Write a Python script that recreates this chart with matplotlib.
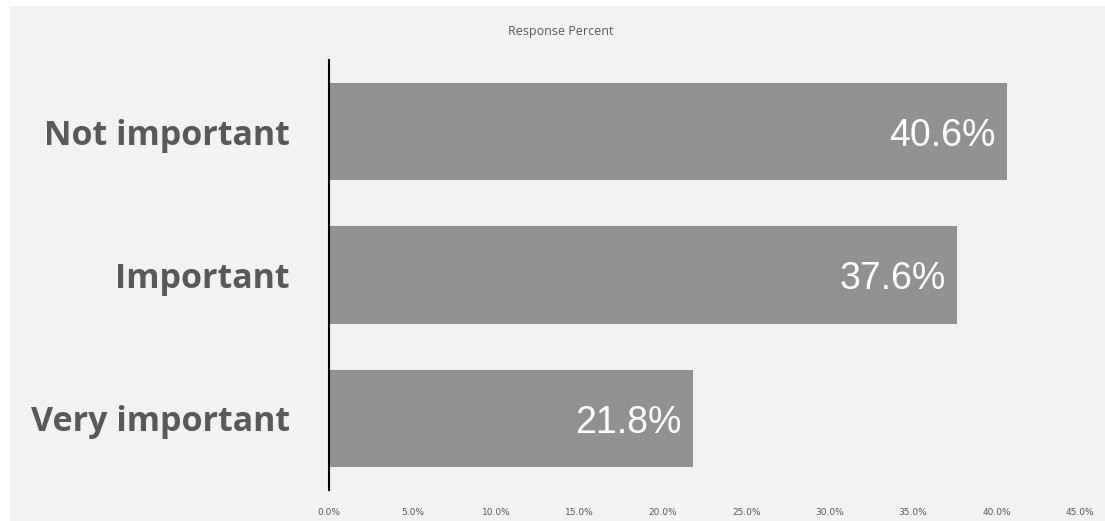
import matplotlib.pyplot as plt
from matplotlib.patches import Rectangle

# Data
categories = ['Not important', 'Important', 'Very important']
percents = [40.6, 37.6, 21.8]
tick_values = [0, 5, 10, 15, 20, 25, 30, 35, 40, 45]
tick_labels = ['0.0%', '5.0%', '10.0%', '15.0%', '20.0%', '25.0%',
               '30.0%', '35.0%', '40.0%', '45.0%']

W, H = 1105, 521
fig = plt.figure(figsize=(W / 100, H / 100), dpi=100)
fig.patch.set_facecolor('white')

# grey chart area with a thin white margin on the top and left
fig.patches.append(Rectangle((10 / W, 0), 1 - 10 / W, 1 - 6 / H,
                             transform=fig.transFigure, facecolor='#f2f2f2',
                             edgecolor='none', zorder=-10))

ax = fig.add_axes([329 / W, 1 - 490 / H, (1080 - 329) / W, (490 - 60) / H])
ax.set_facecolor('none')

y = list(range(len(categories)))
ax.barh(y, percents, height=0.68, color='#919191')
ax.set_ylim(2.5, -0.5)
ax.set_xlim(0, 45)

for yi, v in zip(y, percents):
    ax.text(v - 0.65, yi + 0.03, f'{v:.1f}%', ha='right', va='center',
            color='white', fontsize=27, family='Liberation Sans')

ax.set_yticks(y)
ax.set_yticklabels(categories, fontsize=24.5, fontweight='bold',
                   family='Open Sans', color='#595959')
ax.tick_params(axis='y', length=0, pad=28)

ax.set_xticks(tick_values)
ax.set_xticklabels(tick_labels, fontsize=6.5, color='#595959',
                   family='Liberation Sans Narrow')
ax.tick_params(axis='x', length=0, pad=13)

for side in ['top', 'right', 'bottom']:
    ax.spines[side].set_visible(False)
ax.spines['left'].set_color('black')
ax.spines['left'].set_linewidth(1.5)

fig.text(561 / W, 1 - 31 / H, 'Response Percent', ha='center', va='center',
         fontsize=9, color='#595959', family='Open Sans')

fig.savefig('out.png', dpi=100)
